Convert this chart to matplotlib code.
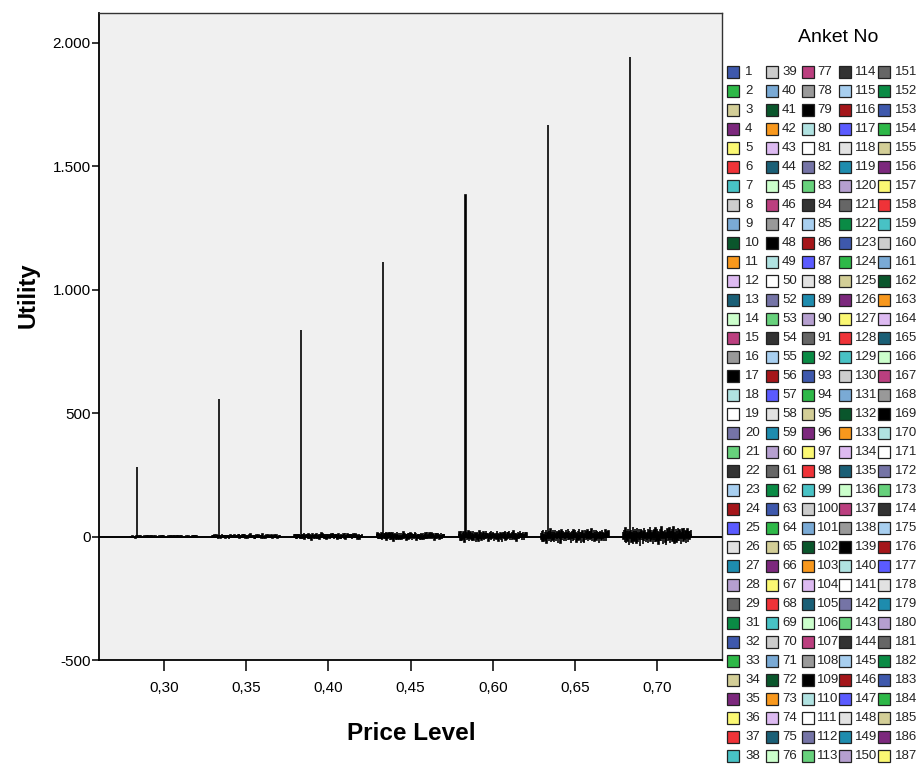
import numpy as np
import matplotlib as mpl
mpl.use('Agg')
import matplotlib.pyplot as plt
from matplotlib.patches import Rectangle

# global plot style
mpl.rcParams['font.family'] = ['Liberation Sans', 'DejaVu Sans']

# ---- data ----
price_levels = ['0,30', '0,35', '0,40', '0,45', '0,60', '0,65', '0,70']
# survey numbers shown in the legend (30 and 51 are absent)
respondents = [n for n in range(1, 188) if n not in (30, 51)]

ytick_values = [-500, 0, 500, 1000, 1500, 2000]
ytick_labels = ['-500', '0', '500', '1.000', '1.500', '2.000']

# SPSS default 30-colour cycle
palette = ['#3E58AC', '#2EB848', '#D3CE97', '#7C287D', '#FBF873', '#EF3338',
           '#48C2C5', '#CCCCCC', '#7AAAD5', '#0A562C', '#F8981D', '#DDBAF1',
           '#1A5F76', '#CCFFCC', '#BB3F7F', '#999999', '#000000', '#B0E2E1',
           '#FFFFFF', '#7574A6', '#67D17C', '#333333', '#A8CFF0', '#A5161A',
           '#5B5BFF', '#E2E2E2', '#1E8CAE', '#B59FCF', '#666666', '#0A8B45']

# utility per respondent (legend order), one string per price level
util_030 = """2 -1 3 0 -2 1 4 -3 1 0 -1 2 -2 3 1 -4 0 2 280 -1 1 3 -2 0 2 -1 4 -3 1 2
0 -2 3 1 -1 2 -3 0 4 1 -2 1 0 3 -1 2 -4 1 0 3 2 -1 1 -3 0 2 4 -2 1 -1
3 0 -2 1 2 -1 0 3 -3 1 -1 2 0 4 -2 1 3 -1 0 2 1 -3 2 0 -1 3 1 -2 4 0
-2 1 3 -1 0 2 -3 1 2 -1 0 3 -2 1 4 -1 2 0 -3 1 2 -1 0 3 1 -2 2 -4 1 0
3 1 -2 0 2 -1 4 -3 1 2 -1 0 2 3 -2 1 -1 4 0 -3 1 2 -1 0 3 -2 1 2 -1 4
0 -2 1 3 -1 2 0 -3 1 2 -1 3 0 2 -2 1 4 -1 0 2 1 -3 2 0 -1 3 1 -2 2 0
-1 2 1 0 3"""
util_035 = """4 -2 6 1 -5 3 8 -6 2 0 -3 5 -4 7 2 -8 1 4 555 -2 3 6 -5 1 4 -3 9 -7 2 5
1 -4 7 2 -3 5 -6 0 8 3 -5 2 1 6 -2 4 -9 3 0 7 5 -3 2 -7 1 4 8 -4 3 -2
6 1 -5 2 4 -3 0 7 -6 2 -2 5 1 9 -4 3 6 -2 1 4 2 -7 5 0 -3 6 2 -5 8 1
-4 3 7 -2 0 5 -6 2 4 -3 1 6 -4 2 9 -3 5 0 -7 3 4 -2 1 6 3 -5 4 -8 2 0
7 2 -4 1 5 -3 8 -6 2 4 -3 1 5 6 -4 2 -2 9 0 -6 3 4 -2 1 7 -5 2 5 -3 8
0 -4 3 6 -2 5 1 -7 2 4 -3 7 0 5 -4 2 8 -2 1 5 3 -6 4 0 -2 7 2 -5 4 1
-2 5 3 0 6"""
util_040 = """7 -3 10 2 -8 5 12 -9 4 1 -5 8 -6 11 3 -12 2 6 835 -4 5 9 -7 2 6 -5 14 -10 3 8
2 -6 11 4 -5 8 -9 1 12 5 -8 3 2 10 -4 6 -13 5 1 11 8 -5 3 -11 2 7 12 -6 4 -3
10 2 -8 3 6 -5 1 11 -9 4 -3 8 2 14 -6 5 9 -4 2 6 3 -11 8 1 -5 10 3 -8 12 2
-6 5 11 -3 1 8 -10 4 6 -5 2 9 -7 3 13 -4 8 1 -11 5 6 -3 2 9 5 -8 6 -12 3 1
11 3 -6 2 8 -5 12 -9 4 6 -5 2 8 10 -6 3 -4 14 1 -9 5 6 -3 2 11 -7 4 8 -5 12
1 -6 5 9 -3 8 2 -11 3 6 -4 10 1 8 -6 3 12 -3 2 7 5 -9 6 1 -3 11 3 -8 6 2
-3 8 4 1 9"""
util_045 = """9 -5 13 3 -11 7 16 -12 5 2 -7 11 -8 15 4 -16 3 8 1110 -5 7 12 -10 3 9 -6 18 -14 4 11
3 -8 15 5 -7 11 -13 2 16 7 -11 4 3 14 -5 9 -17 6 2 15 11 -7 4 -15 3 9 17 -8 6 -4
13 3 -11 4 8 -7 2 15 -12 5 -4 11 3 19 -8 7 12 -5 3 9 4 -15 11 2 -7 13 4 -11 16 3
-8 7 15 -4 2 11 -14 5 9 -7 3 12 -9 4 18 -5 11 2 -15 7 8 -4 3 12 7 -11 8 -16 4 2
15 4 -8 3 11 -7 16 -12 5 8 -7 3 11 14 -8 4 -5 19 2 -12 7 8 -4 3 15 -10 5 11 -7 16
2 -8 7 12 -4 11 3 -15 4 8 -5 14 2 11 -8 4 16 -4 3 10 7 -12 8 2 -4 15 4 -11 8 3
-4 11 5 2 12"""
util_060 = """12 -6 17 4 -14 9 21 -16 7 3 -9 14 -11 19 5 -21 4 10 1385 -7 9 16 -13 4 11 -8 23 -18 5 14
4 -11 19 7 -9 14 -17 3 21 9 -14 5 4 18 -7 12 -22 8 3 19 14 -9 5 -19 4 12 22 -11 8 -5
17 4 -14 5 10 -9 3 19 -16 7 -5 14 4 24 -11 9 16 -7 4 12 5 -19 14 3 -9 17 5 -14 21 4
-11 9 19 -5 3 14 -18 7 12 -9 4 16 -12 5 23 -7 14 3 -19 9 10 -5 4 16 9 -14 10 -21 5 3
19 5 -11 4 14 -9 21 -16 7 10 -9 4 14 18 -11 5 -7 24 3 -16 9 10 -5 4 19 -13 7 14 -9 21
3 -11 9 16 -5 14 4 -19 5 10 -7 18 3 14 -11 5 21 -5 4 13 9 -16 10 3 -5 19 5 -14 10 4
-5 14 7 3 16"""
util_065 = """15 -8 22 5 -18 12 27 -20 9 4 -12 18 -14 25 7 -27 5 13 1665 -9 12 21 -17 5 14 -10 30 -23 7 18
5 -14 25 9 -12 18 -22 4 27 12 -18 7 5 23 -9 15 -28 10 4 25 18 -12 7 -25 5 15 28 -14 10 -7
22 5 -18 7 13 -12 4 25 -20 9 -7 18 5 31 -14 12 21 -9 5 15 7 -25 18 4 -12 22 7 -18 27 5
-14 12 25 -7 4 18 -23 9 15 -12 5 21 -15 7 30 -9 18 4 -25 12 13 -7 5 21 12 -18 13 -27 7 4
25 7 -14 5 18 -12 27 -20 9 13 -12 5 18 23 -14 7 -9 31 4 -20 12 13 -7 5 25 -17 9 18 -12 27
4 -14 12 21 -7 18 5 -25 7 13 -9 23 4 18 -14 7 27 -7 5 17 12 -20 13 4 -7 25 7 -18 13 5
-7 18 9 4 21"""
util_070 = """19 -11 28 7 -24 15 35 -26 12 5 -15 23 -18 32 9 -35 7 17 1940 -12 15 27 -22 7 18 -13 39 -30 9 23
7 -18 32 12 -15 23 -28 5 35 15 -24 9 7 30 -12 19 -37 13 5 32 23 -15 9 -32 7 19 36 -18 13 -9
28 7 -24 9 17 -15 5 32 -26 12 -9 23 7 40 -18 15 27 -12 7 19 9 -32 23 5 -15 28 9 -24 35 7
-18 15 32 -9 5 23 -30 12 19 -15 7 27 -20 9 39 -12 23 5 -32 15 17 -9 7 27 15 -24 17 -35 9 5
32 9 -18 7 23 -15 35 -26 12 17 -15 7 23 30 -18 9 -12 40 5 -26 15 17 -9 7 32 -22 12 23 -15 35
5 -18 15 27 -9 23 7 -32 9 17 -12 30 5 23 -18 9 35 -9 7 22 15 -26 17 5 -9 32 9 -24 17 7
-9 23 12 5 27"""

utility = np.array([np.array(s.split(), dtype=float)
                    for s in (util_030, util_035, util_040, util_045,
                              util_060, util_065, util_070)])

# ---- figure ----
W, H = 917, 773
fig = plt.figure(figsize=(W / 100, H / 100), dpi=100)
fig.patch.set_facecolor('white')

# plot area in pixels: x 99..722, y 13..660
ax = fig.add_axes([99 / W, 1 - 660 / H, (722 - 99) / W, (660 - 13) / H])
ax.set_facecolor('#F0F0F0')

n = len(respondents)
group_w = 0.827
bw = group_w / n
x = np.arange(len(price_levels))
for i, resp in enumerate(respondents):
    ax.bar(x - group_w / 2 + (i + 0.5) * bw, utility[:, i], bw,
           color=palette[i % len(palette)], edgecolor='black', linewidth=1.2,
           zorder=2)

ax.axhline(0, color='black', linewidth=1.4, zorder=3)

ax.set_xlim(-0.79, 6.79)
ax.set_ylim(-500, 2120)
ax.set_xticks(x)
ax.set_xticklabels(price_levels)
ax.set_yticks(ytick_values)
ax.set_yticklabels(ytick_labels)
ax.tick_params(axis='y', direction='out', length=5, width=1.1, colors='black',
               labelsize=11, pad=1)
ax.tick_params(axis='x', direction='out', length=8, width=1.1, colors='black',
               labelsize=11, pad=7)

for side in ['left', 'bottom']:
    ax.spines[side].set_color('black')
    ax.spines[side].set_linewidth(1.3)
for side in ['top', 'right']:
    ax.spines[side].set_color('#333333')
    ax.spines[side].set_linewidth(1.0)

# ---- overlay in pixel coordinates for labels and legend ----
ov = fig.add_axes([0, 0, 1, 1])
ov.set_xlim(0, W)
ov.set_ylim(H, 0)
ov.axis('off')
ov.patch.set_visible(False)

ov.text(28, 295, 'Utility', rotation=90, fontsize=17, fontweight='bold',
        ha='center', va='center')
ov.text(411, 733, 'Price Level', fontsize=17.5, fontweight='bold',
        ha='center', va='center')
ov.text(838, 38, 'Anket No', fontsize=14, ha='center', va='center')

# legend: 5 columns x 37 rows
swatch_x = [727, 766, 802, 839, 878]
label_x = [745, 782, 817, 855, 895]
rows = 37
for k, resp in enumerate(respondents):
    col, row = divmod(k, rows)
    yc = 72 + row * 19.0
    ov.add_patch(Rectangle((swatch_x[col], yc - 6), 12, 12,
                           facecolor=palette[k % len(palette)],
                           edgecolor='#222222', linewidth=0.9))
    ov.text(label_x[col], yc, str(resp), fontsize=9.5, ha='left', va='center',
            color='#222222')

fig.savefig('out.png', dpi=100)
